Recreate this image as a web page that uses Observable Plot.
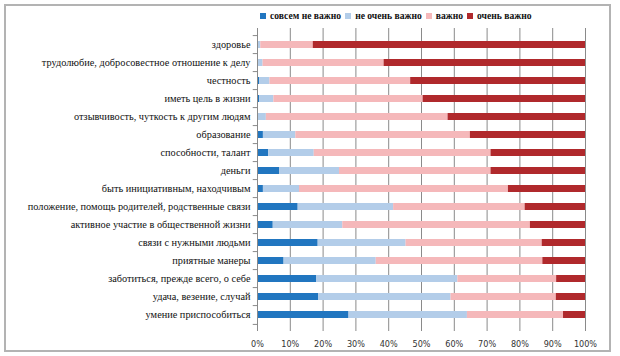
<!DOCTYPE html>
<html><head><meta charset="utf-8">
<script src="https://cdn.jsdelivr.net/npm/d3@7"></script>
<script src="https://cdn.jsdelivr.net/npm/@observablehq/plot@0.6"></script>
<style>
body{margin:0;background:#fff;}
#wrap{position:relative;width:620px;height:356px;overflow:hidden;background:#fff;}
#frame{position:absolute;left:4px;top:4px;width:607px;height:348px;border:2px solid #b3b3b3;box-sizing:border-box;pointer-events:none;}
#legend{position:absolute;left:260px;top:10px;font-family:"Liberation Serif",serif;font-weight:bold;font-size:9.6px;color:#111;display:flex;align-items:center;white-space:nowrap;}
#legend .it{display:flex;align-items:center;margin-right:4px;}
#legend .sw{width:6px;height:6px;margin-right:4px;display:inline-block;}
#chart{position:absolute;left:0;top:0;}
</style></head>
<body>
<div id="wrap"><div id="chart"></div><div id="legend"></div><div id="frame"></div></div>
<script>
const categories = [
  "здоровье",
  "трудолюбие, добросовестное отношение к делу",
  "честность",
  "иметь цель в жизни",
  "отзывчивость, чуткость к другим людям",
  "образование",
  "способности, талант",
  "деньги",
  "быть инициативным, находчивым",
  "положение, помощь родителей, родственные связи",
  "активное участие в общественной жизни",
  "связи с нужными людьми",
  "приятные манеры",
  "заботиться, прежде всего, о себе",
  "удача, везение, случай",
  "умение приспособиться"
];
const seriesNames = ["совсем не важно", "не очень важно", "важно", "очень важно"];
const seriesColors = ["#2176c0", "#b3cde9", "#f5b8ba", "#b0292c"];
const notAtAll  = [0, 0, 0.7, 0.7, 0, 1.8, 3.4, 6.8, 1.8, 12.4, 4.8, 18.5, 8.1, 18, 18.7, 27.9];
const notVery   = [1, 1.7, 3.1, 4.3, 2.7, 9.9, 13.9, 18.2, 11, 29.1, 21.2, 26.8, 28.1, 43.1, 40.3, 36.1];
const important = [16, 36.9, 42.9, 45.5, 55.4, 53.2, 53.9, 46.2, 63.7, 40.1, 57.2, 41.5, 50.8, 30.1, 32.1, 29.3];
const veryImp   = [83, 61.4, 53.3, 49.5, 41.9, 35.1, 28.8, 28.8, 23.5, 18.4, 16.8, 13.2, 13, 8.8, 8.9, 6.7];
const xTicks = [0, 10, 20, 30, 40, 50, 60, 70, 80, 90, 100];

const seriesValues = [notAtAll, notVery, important, veryImp];
const data = [];
seriesNames.forEach((s, si) => categories.forEach((c, ci) => data.push({category: c, series: s, value: seriesValues[si][ci]})));

const W = 620, H = 356, mT = 28, mB = 25, mL = 257, mR = 35;
const pIn = 0.6, pOut = 0.35;
const step = (H - mT - mB) / (categories.length - pIn + 2 * pOut);
const SERIF = "'Liberation Serif', 'Times New Roman', serif";
const SANS = "'DejaVu Sans Condensed', 'DejaVu Sans', sans-serif";

const chart = Plot.plot({
  width: W, height: H,
  marginTop: mT, marginBottom: mB, marginLeft: mL, marginRight: mR,
  style: {background: "transparent", overflow: "visible", fontFamily: SERIF, fontSize: "10.3px"},
  x: {domain: [0, 100], ticks: xTicks, axis: null, label: null},
  y: {domain: categories, paddingInner: pIn, paddingOuter: pOut, axis: null, label: null},
  color: {domain: seriesNames, range: seriesColors},
  marks: [
    Plot.gridX(xTicks.slice(1), {stroke: "#8a8a8a", strokeOpacity: 1, strokeWidth: 1}),
    Plot.barX(data, {x: "value", y: "category", fill: "series", order: seriesNames}),
    Plot.ruleX([0], {stroke: "#8a8a8a", strokeWidth: 1}),
    Plot.ruleY(categories, {y: d => d, x1: -1.3, x2: 0, dy: -step / 2, stroke: "#8a8a8a"}),
    Plot.ruleY(categories.slice(-1), {y: d => d, x1: -1.3, x2: 0, dy: step / 2, stroke: "#8a8a8a"}),
    Plot.axisX(xTicks, {tickSize: 0, tickPadding: 9, label: null, tickFormat: d => d + "%", fontSize: 9, fill: "#333"}),
    Plot.axisY({tickSize: 0, tickPadding: 7, label: null, fontSize: 10.3, fill: "#111"})
  ]
});
document.getElementById("chart").appendChild(chart);
d3.select(chart).selectAll("text").each(function() {
  const t = d3.select(this);
  if (/%$/.test(t.text())) t.style("font-family", SANS).style("font-size", "9px");
  else t.style("font-family", SERIF).style("font-size", "10.3px");
});

const legend = document.getElementById("legend");
seriesNames.forEach((s, i) => {
  const it = document.createElement("span");
  it.className = "it";
  const sw = document.createElement("span");
  sw.className = "sw";
  sw.style.background = seriesColors[i];
  it.appendChild(sw);
  it.appendChild(document.createTextNode(s));
  legend.appendChild(it);
});
</script>
</body></html>
